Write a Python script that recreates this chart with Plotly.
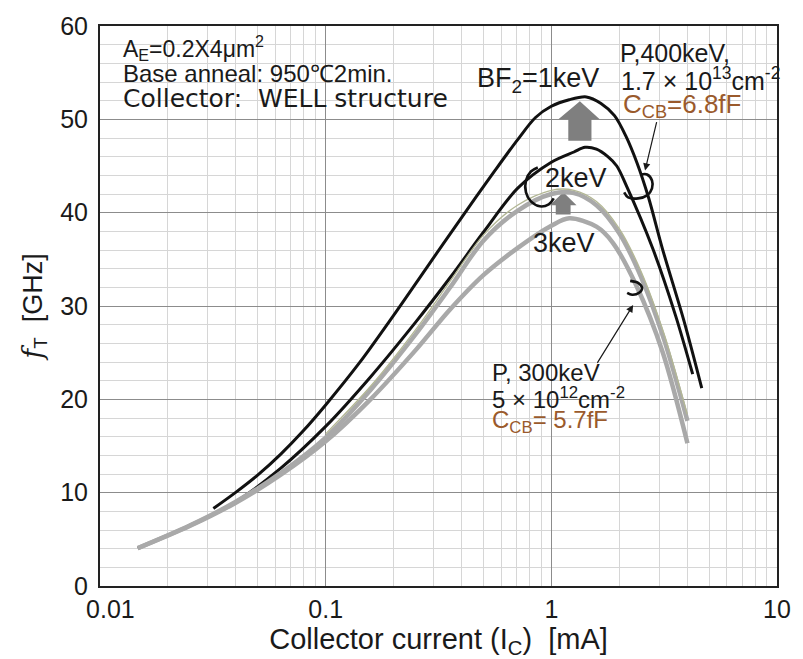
import math
import plotly.graph_objects as go

# Collector current [mA] and cutoff frequency fT [GHz]
ic_bf2_1kev = [0.0318, 0.0398, 0.0501, 0.0631, 0.0794, 0.1, 0.141, 0.2, 0.282, 0.398, 0.562, 0.708, 0.851,
               1.0, 1.2, 1.43, 1.66, 1.905, 2.14, 2.4, 2.69, 3.11, 3.87, 4.64]
ft_bf2_1kev = [8.3, 10.0, 11.9, 14.1, 16.6, 19.4, 23.9, 29.0, 34.2, 39.4, 44.5, 47.8, 50.2,
               51.4, 52.1, 52.4, 51.7, 50.4, 48.2, 45.3, 41.7, 36.1, 28.4, 21.2]

ic_bf2_2kev_p400 = [0.0147, 0.0251, 0.0398, 0.0631, 0.1, 0.158, 0.251, 0.355, 0.5, 0.708, 1.0, 1.26, 1.41,
                    1.585, 1.78, 1.95, 2.14, 2.82, 3.55, 4.23]
ft_bf2_2kev_p400 = [4.05, 6.5, 9.0, 12.6, 17.1, 22.4, 28.3, 33.0, 37.9, 42.6, 45.4, 46.5, 47.0,
                    46.8, 46.0, 45.0, 43.0, 36.1, 29.0, 22.7]

ic_bf2_2kev_p300 = [0.0147, 0.0251, 0.0398, 0.0631, 0.1, 0.158, 0.251, 0.355, 0.5, 0.708, 1.0, 1.26,
                    1.585, 2.0, 2.51, 3.16, 4.01]
ft_bf2_2kev_p300 = [4.05, 6.5, 9.0, 12.1, 15.9, 21.0, 27.0, 31.95, 37.0, 40.2, 42.0, 42.1,
                    40.8, 37.8, 33.0, 26.4, 17.7]

ic_bf2_2kev_ref = [0.1, 0.158, 0.251, 0.355, 0.5, 0.708, 1.0, 1.26, 1.585, 2.0, 2.51, 3.16, 4.0]
ft_bf2_2kev_ref = [16.3, 21.4, 27.5, 32.6, 37.6, 40.8, 42.4, 42.4, 41.2, 38.3, 33.6, 27.0, 18.4]

ic_bf2_3kev = [0.0147, 0.0251, 0.0398, 0.0631, 0.1, 0.158, 0.251, 0.355, 0.5, 0.708, 1.0, 1.2,
               1.585, 1.87, 2.38, 3.11, 4.01]
ft_bf2_3kev = [4.05, 6.45, 8.9, 11.9, 15.5, 20.0, 25.3, 29.6, 33.3, 36.2, 38.6, 39.4,
               38.5, 36.8, 32.2, 25.1, 15.3]

x_tick_vals = [0.01, 0.1, 1, 10]
x_tick_text = ["&nbsp;&nbsp;&nbsp;0.01", "0.1", "1", "10"]

# block arrows (current, fT) showing the shift of the fT peak
big_arrow_x = [1.189, 1.189, 1.075, 1.338, 1.638, 1.506, 1.506, 1.189]
big_arrow_y = [47.7, 50.0, 50.0, 51.95, 50.0, 50.0, 47.7, 47.7]
small_arrow_x = [1.046, 1.046, 0.984, 1.13, 1.293, 1.217, 1.217, 1.046]
small_arrow_y = [39.8, 40.8, 40.8, 42.2, 40.8, 40.8, 39.8, 39.8]

# hand-drawn marks circling the C_CB points
loop_a_x = [0.871, 0.812, 0.772, 0.772, 0.812, 0.889, 0.974, 1.025]
loop_a_y = [44.84, 44.41, 43.45, 42.17, 41.21, 40.68, 40.89, 41.53]
loop_b_x = [2.103, 2.19, 2.424, 2.656, 2.793, 2.793, 2.656, 2.499]
loop_b_y = [42.17, 41.64, 41.53, 41.85, 42.60, 43.45, 44.09, 44.09]
loop_c_x = [2.235, 2.424, 2.524, 2.449, 2.281, 2.168]
loop_c_y = [32.69, 32.47, 31.94, 31.41, 31.20, 31.41]

BLACK = "#111111"
GRAY = "#a9a9a9"
OLIVE = "#b3b795"
ARROW = "#7f7f7f"
BROWN = "#9a5a2c"
TXT = "#1a1a1a"
FONT = "Liberation Sans, Arial, sans-serif"
WIDE = "DejaVu Sans, Liberation Sans, sans-serif"
NARROW = "Liberation Sans Narrow, Arial Narrow, Liberation Sans, Arial, sans-serif"

fig = go.Figure()

def poly(xs, ys, color):
    fig.add_trace(go.Scatter(x=xs, y=ys, mode="lines", fill="toself", fillcolor=color,
                             line=dict(color=color, width=0), hoverinfo="skip"))

def curve(xs, ys, color, width, smooth=0.9):
    fig.add_trace(go.Scatter(x=xs, y=ys, mode="lines",
                             line=dict(color=color, width=width, shape="spline", smoothing=smooth)))

poly(small_arrow_x, small_arrow_y, ARROW)
curve(ic_bf2_2kev_p400, ft_bf2_2kev_p400, BLACK, 3)
curve(ic_bf2_3kev, ft_bf2_3kev, GRAY, 4.5)
curve(ic_bf2_2kev_p300, ft_bf2_2kev_p300, GRAY, 4.5)
curve(ic_bf2_2kev_ref, ft_bf2_2kev_ref, OLIVE, 1.3)
curve(ic_bf2_1kev, ft_bf2_1kev, BLACK, 3)
poly(big_arrow_x, big_arrow_y, ARROW)
for lx, ly in [(loop_a_x, loop_a_y), (loop_b_x, loop_b_y), (loop_c_x, loop_c_y)]:
    curve(lx, ly, BLACK, 2.6, smooth=1.0)

def note(text, x, y, size=24, color=TXT, xanchor="left", family=FONT):
    fig.add_annotation(text=text, x=math.log10(x), y=y, xref="x", yref="y",
                       showarrow=False, xanchor=xanchor, yanchor="middle",
                       font=dict(family=family, size=size, color=color))

note("A<sub>E</sub>=0.2X4μm<sup>2</sup>", 0.01236, 57.6, size=23)
note("Base anneal: 950℃2min.", 0.01236, 54.95, size=24)
note("Collector:&nbsp; WELL structure", 0.01236, 52.25, size=25, family=WIDE)
note("BF<sub>2</sub>=1keV", 0.46, 54.25, size=27)
note("P,400keV,", 1.979, 57.1, size=25)
note("1.7 × 10<sup>13</sup>cm<sup>-2</sup>", 2.0, 54.3, size=25)
note("C<sub>CB</sub>=6.8fF", 2.04, 51.5, size=26, color=BROWN)
note("2keV", 1.28, 43.7, size=27, xanchor="center")
note("3keV", 1.134, 36.7, size=27, xanchor="center")
note("P, 300keV", 0.536, 22.88)
note("5 × 10<sup>12</sup>cm<sup>-2</sup>", 0.536, 20.11)
note("C<sub>CB</sub>= 5.7fF", 0.536, 17.66, color=BROWN)

def pointer(x_head, y_head, x_tail, y_tail):
    fig.add_annotation(x=math.log10(x_head), y=y_head, ax=math.log10(x_tail), ay=y_tail,
                       xref="x", yref="y", axref="x", ayref="y", text="",
                       showarrow=True, arrowhead=2, arrowsize=1.2, arrowwidth=1.2,
                       arrowcolor=TXT)

pointer(2.602, 44.52, 2.939, 49.85)
pointer(2.304, 30.10, 1.584, 23.74)

minor_x = [m * 10 ** e for e in (-2, -1, 0) for m in range(2, 10)]

fig.update_xaxes(
    type="log", range=[-2, 1],
    tickmode="array", tickvals=x_tick_vals, ticktext=x_tick_text,
    ticks="", showline=True, linecolor="#222", linewidth=2, mirror=True,
    showgrid=True, gridcolor="#8c8c8c", gridwidth=1,
    minor=dict(tickmode="array", tickvals=minor_x, showgrid=True, gridcolor="#d6d6d6", gridwidth=1, ticks=""),
    tickfont=dict(family=NARROW, size=25, color=TXT),
    title=dict(text="Collector current (I<sub>C</sub>)&nbsp; [mA]",
               font=dict(family=NARROW, size=29, color=TXT), standoff=4),
    zeroline=False,
)
fig.update_yaxes(
    range=[0, 60], dtick=10, tick0=0,
    ticks="", showline=True, linecolor="#222", linewidth=2, mirror=True,
    showgrid=True, gridcolor="#8c8c8c", gridwidth=1,
    minor=dict(dtick=2, showgrid=True, gridcolor="#d6d6d6", gridwidth=1, ticks=""),
    tickfont=dict(family=NARROW, size=25, color=TXT), ticklabelstandoff=5,
    title=dict(text="<span style='font-family:DejaVu Serif'><i>f</i></span><sub>T</sub>&nbsp; [GHz]",
               font=dict(family=NARROW, size=27, color=TXT), standoff=10),
    zeroline=False,
)
fig.update_layout(
    width=803, height=659,
    margin=dict(l=100, r=21, t=23, b=73),
    paper_bgcolor="white", plot_bgcolor="white",
    showlegend=False,
)

fig.write_html("out.html")
